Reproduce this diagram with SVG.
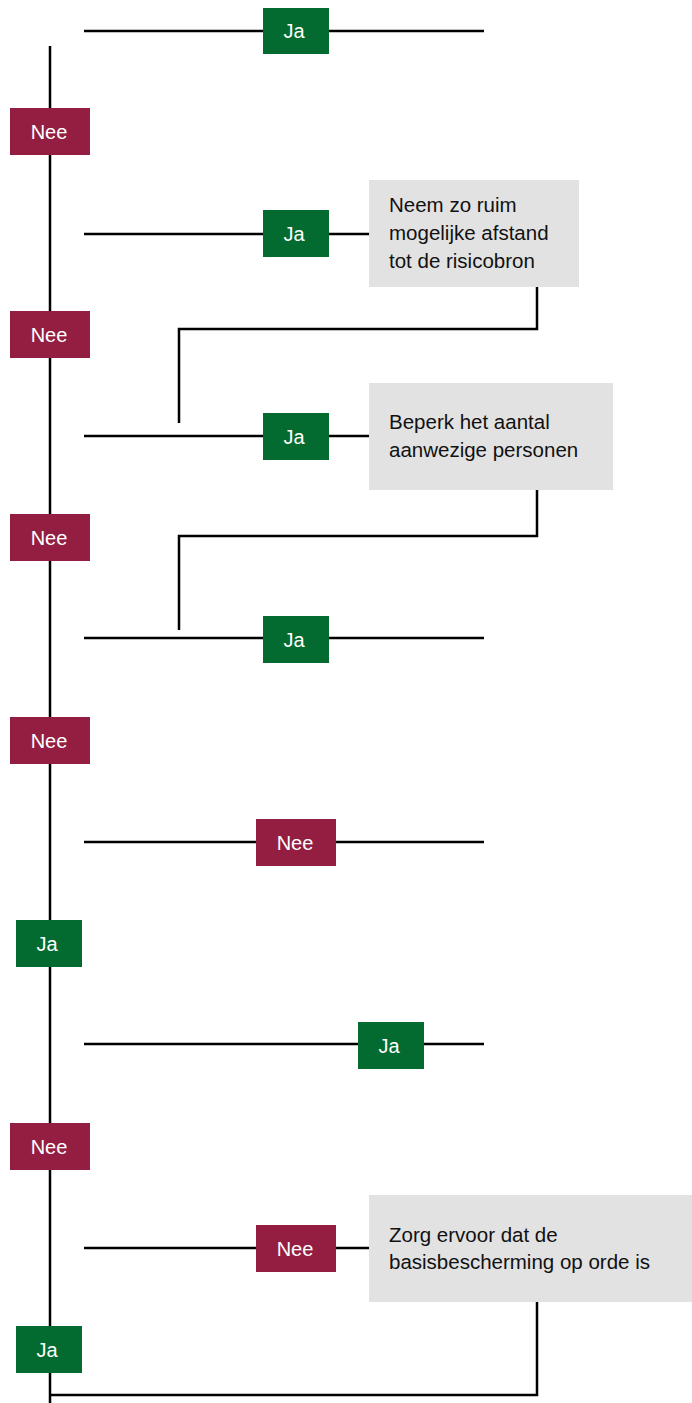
<svg xmlns="http://www.w3.org/2000/svg" width="692" height="1403" viewBox="0 0 692 1403">
<style>
.ln{stroke:#000;stroke-width:2.5;fill:none}
.ja{fill:#036b2f}
.nee{fill:#941e42}
.lt{fill:#fff;font-family:"Liberation Sans",Arial,sans-serif;font-size:20px;text-anchor:middle}
.box{fill:#e2e2e2}
.bt{fill:#111;font-family:"Liberation Sans",Arial,sans-serif;font-size:20.5px}
</style>
<rect width="692" height="1403" fill="#fff"/>
<g id="connectors">
<path class="ln" d="M50 46 V1403"/>
<path class="ln" d="M84 31 H484"/>
<path class="ln" d="M84 234 H369"/>
<path class="ln" d="M537 287 V329 H179 V423"/>
<path class="ln" d="M84 436 H369"/>
<path class="ln" d="M537 490 V536 H179 V630"/>
<path class="ln" d="M84 638 H484"/>
<path class="ln" d="M84 842 H484"/>
<path class="ln" d="M84 1044 H484"/>
<path class="ln" d="M84 1248 H369"/>
<path class="ln" d="M537 1302 V1395 H50"/>
</g>
<g id="ja1"><rect class="ja" x="263" y="8" width="66" height="46"/><text class="lt" x="294" y="38">Ja</text></g>
<g id="nee1"><rect class="nee" x="10" y="108" width="80" height="47"/><text class="lt" x="49" y="138.5">Nee</text></g>
<g id="ja2"><rect class="ja" x="263" y="210" width="66" height="47"/><text class="lt" x="294" y="240.5">Ja</text></g>
<g id="box1"><rect class="box" x="369" y="180" width="210" height="107"/><text class="bt" x="389" y="212">Neem zo ruim</text><text class="bt" x="389" y="240">mogelijke afstand</text><text class="bt" x="389" y="268">tot de risicobron</text></g>
<g id="nee2"><rect class="nee" x="10" y="311" width="80" height="47"/><text class="lt" x="49" y="341.5">Nee</text></g>
<g id="ja3"><rect class="ja" x="263" y="413" width="66" height="47"/><text class="lt" x="294" y="443.5">Ja</text></g>
<g id="box2"><rect class="box" x="369" y="383" width="244" height="107"/><text class="bt" x="389" y="429">Beperk het aantal</text><text class="bt" x="389" y="457">aanwezige personen</text></g>
<g id="nee3"><rect class="nee" x="10" y="514" width="80" height="47"/><text class="lt" x="49" y="544.5">Nee</text></g>
<g id="ja4"><rect class="ja" x="263" y="616" width="66" height="47"/><text class="lt" x="294" y="646.5">Ja</text></g>
<g id="nee4"><rect class="nee" x="10" y="717" width="80" height="47"/><text class="lt" x="49" y="747.5">Nee</text></g>
<g id="nee5"><rect class="nee" x="256" y="819" width="80" height="47"/><text class="lt" x="295" y="849.5">Nee</text></g>
<g id="ja5"><rect class="ja" x="16" y="920" width="66" height="47"/><text class="lt" x="47" y="950.5">Ja</text></g>
<g id="ja6"><rect class="ja" x="358" y="1022" width="66" height="47"/><text class="lt" x="389" y="1052.5">Ja</text></g>
<g id="nee6"><rect class="nee" x="10" y="1123" width="80" height="47"/><text class="lt" x="49" y="1153.5">Nee</text></g>
<g id="nee7"><rect class="nee" x="256" y="1225" width="80" height="47"/><text class="lt" x="295" y="1255.5">Nee</text></g>
<g id="box3"><rect class="box" x="369" y="1195" width="323" height="107"/><text class="bt" x="389" y="1242">Zorg ervoor dat de</text><text class="bt" x="389" y="1269">basisbescherming op orde is</text></g>
<g id="ja7"><rect class="ja" x="16" y="1326" width="66" height="47"/><text class="lt" x="47" y="1356.5">Ja</text></g>
</svg>
